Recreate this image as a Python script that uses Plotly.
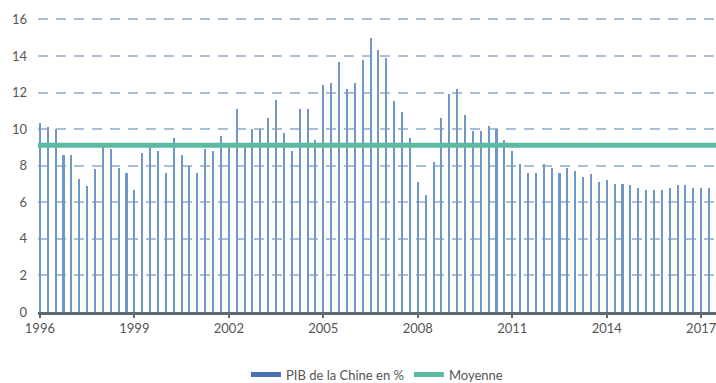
import plotly.graph_objects as go

start_year = 1996
pib = [10.34, 10.12, 10.0, 8.6, 8.6, 7.3, 6.9, 7.8, 9.06, 8.9, 7.9, 7.6,
       6.7, 8.7, 9.06, 8.8, 7.6, 9.5, 8.6, 8.0, 7.6, 8.9, 8.8, 9.6,
       9.1, 11.1, 9.1, 10.0, 10.0, 10.6, 11.6, 9.8, 8.8, 11.1, 11.1, 9.4,
       12.4, 12.5, 13.7, 12.2, 12.5, 13.8, 15.0, 14.35, 13.9, 11.56, 10.94, 9.5,
       7.1, 6.4, 8.2, 10.6, 11.9, 12.2, 10.8, 9.9, 9.9, 10.2, 10.0, 9.4,
       8.8, 8.1, 7.6, 7.6, 8.1, 7.9, 7.6, 7.9, 7.7, 7.4, 7.55, 7.1,
       7.24, 7.0, 7.0, 6.95, 6.8, 6.7, 6.7, 6.7, 6.8, 6.95, 6.95, 6.8,
       6.8, 6.8]
quarters = [start_year + i / 4 for i in range(len(pib))]
moyenne = 9.12
tick_years = [1996, 1999, 2002, 2005, 2008, 2011, 2014, 2017]
y_ticks = [0, 2, 4, 6, 8, 10, 12, 14, 16]

bar_color = "#6f98c6"
mean_color = "#5bbba2"
legend_blue = "#4a73b5"

fig = go.Figure()
fig.add_trace(go.Bar(x=quarters, y=pib, width=0.065, marker=dict(color=bar_color, line=dict(width=0)),
                     showlegend=False, name="PIB de la Chine en %"))
fig.add_trace(go.Scatter(x=[1995.5, 2018.5], y=[moyenne, moyenne], mode="lines",
                         line=dict(color=mean_color, width=5), showlegend=False, name="Moyenne"))
# legend entries
fig.add_trace(go.Scatter(x=[None], y=[None], mode="lines", line=dict(color=legend_blue, width=5),
                         name="PIB de la Chine en %"))
fig.add_trace(go.Scatter(x=[None], y=[None], mode="lines", line=dict(color=mean_color, width=5),
                         name="Moyenne"))

fig.update_layout(
    width=716, height=383,
    margin=dict(l=38, r=0, t=14, b=71, autoexpand=False),
    paper_bgcolor="white", plot_bgcolor="white",
    font=dict(family="Lato, Source Sans Pro, sans-serif", size=12, color="#555555"),
    bargap=0,
    xaxis=dict(range=[1995.94, 2017.47], tickvals=tick_years, ticktext=[str(t) for t in tick_years],
               showgrid=False, zeroline=False, showline=True, linecolor="#5f6773", linewidth=2.5,
               ticks="outside", ticklen=3, tickwidth=2, tickcolor="#5f6773",
               ticklabeloverflow="allow",
               tickfont=dict(size=13, color="#555555")),
    yaxis=dict(range=[0, 16.3], tickvals=y_ticks, showgrid=True, gridcolor="#a9bfd8", gridwidth=1.5,
               griddash="10px,8px", zeroline=False, showline=False, ticks="",
               ticklabelstandoff=10, ticklabeloverflow="allow",
               tickfont=dict(size=13, color="#555555")),
    legend=dict(orientation="h", x=0.5, xanchor="center", yref="container", y=0.022, yanchor="middle",
                font=dict(size=13, color="#555555"), itemwidth=30, tracegroupgap=0),
)
fig.write_html("out.html")
